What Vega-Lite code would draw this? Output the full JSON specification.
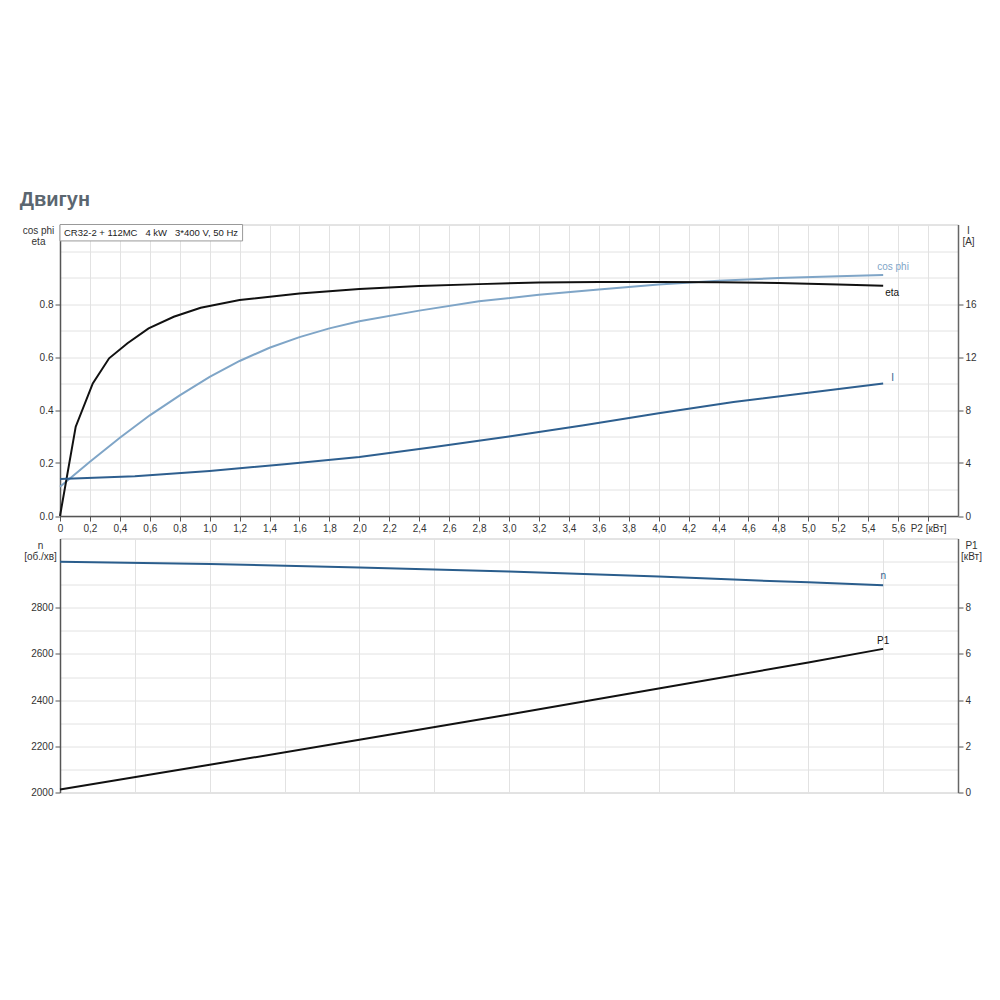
{
  "$schema": "https://vega.github.io/schema/vega-lite/v6.json",
  "background": "white",
  "padding": {"left": 19, "top": 189.5, "right": 5, "bottom": 5},
  "title": {"text": "Двигун", "anchor": "start", "fontSize": 20, "font": "Liberation Sans", "fontWeight": "bold", "color": "#5b6670", "offset": 14, "dx": -2},
  "config": {
    "view": {"stroke": "#c8c8c8"},
    "axis": {"labelFont": "Liberation Sans", "labelFontSize": 10, "labelColor": "#333", "titleFont": "Liberation Sans", "titleFontSize": 10, "titleFontWeight": "normal", "titleColor": "#333", "titleLineHeight": 11, "gridColor": "#e2e2e2", "gridWidth": 1, "domainColor": "#555", "domainWidth": 1.5, "tickColor": "#555", "tickSize": 5, "labelPadding": 2},
    "text": {"font": "Liberation Sans", "fontSize": 10}
  },
  "datasets": {
    "eta": [
      {"P2": 0, "v": 0}, {"P2": 0.105, "v": 0.337}, {"P2": 0.219, "v": 0.5}, {"P2": 0.328, "v": 0.595},
      {"P2": 0.451, "v": 0.652}, {"P2": 0.592, "v": 0.708}, {"P2": 0.76, "v": 0.752}, {"P2": 0.94, "v": 0.786},
      {"P2": 1.2, "v": 0.815}, {"P2": 1.6, "v": 0.84}, {"P2": 2.0, "v": 0.857}, {"P2": 2.4, "v": 0.868},
      {"P2": 2.8, "v": 0.875}, {"P2": 3.2, "v": 0.881}, {"P2": 3.6, "v": 0.883}, {"P2": 4.0, "v": 0.883},
      {"P2": 4.4, "v": 0.882}, {"P2": 4.8, "v": 0.879}, {"P2": 5.2, "v": 0.874}, {"P2": 5.5, "v": 0.869}
    ],
    "cosphi": [
      {"P2": 0, "v": 0.11}, {"P2": 0.2, "v": 0.205}, {"P2": 0.4, "v": 0.295}, {"P2": 0.6, "v": 0.38},
      {"P2": 0.8, "v": 0.455}, {"P2": 1.0, "v": 0.525}, {"P2": 1.2, "v": 0.585}, {"P2": 1.4, "v": 0.635},
      {"P2": 1.6, "v": 0.675}, {"P2": 1.8, "v": 0.708}, {"P2": 2.0, "v": 0.735}, {"P2": 2.4, "v": 0.775},
      {"P2": 2.8, "v": 0.81}, {"P2": 3.2, "v": 0.835}, {"P2": 3.6, "v": 0.855}, {"P2": 4.0, "v": 0.874},
      {"P2": 4.4, "v": 0.888}, {"P2": 4.8, "v": 0.898}, {"P2": 5.2, "v": 0.905}, {"P2": 5.5, "v": 0.909}
    ],
    "current": [
      {"P2": 0, "v": 2.8}, {"P2": 0.5, "v": 3.0}, {"P2": 1.0, "v": 3.4}, {"P2": 1.5, "v": 3.9},
      {"P2": 2.0, "v": 4.45}, {"P2": 2.5, "v": 5.2}, {"P2": 3.0, "v": 6.0}, {"P2": 3.5, "v": 6.85},
      {"P2": 4.0, "v": 7.75}, {"P2": 4.5, "v": 8.6}, {"P2": 5.0, "v": 9.3}, {"P2": 5.5, "v": 10.0}
    ],
    "speed": [
      {"P2": 0, "v": 2999}, {"P2": 1, "v": 2990}, {"P2": 2, "v": 2974}, {"P2": 3, "v": 2957},
      {"P2": 4, "v": 2935}, {"P2": 4.5, "v": 2922}, {"P2": 5, "v": 2910}, {"P2": 5.5, "v": 2898}
    ],
    "p1": [
      {"P2": 0, "v": 0.13}, {"P2": 1, "v": 1.2}, {"P2": 2, "v": 2.28}, {"P2": 3, "v": 3.38},
      {"P2": 4, "v": 4.5}, {"P2": 5, "v": 5.63}, {"P2": 5.5, "v": 6.22}
    ]
  },
  "spacing": 22,
  "bounds": "flush",
  "vconcat": [
    {
      "width": 898,
      "height": 291.5,
      "layer": [
        {
          "encoding": {
            "x": {"field": "P2", "type": "quantitative", "scale": {"domain": [0, 6], "nice": false, "zero": false},
              "axis": {"values": [0, 0.2, 0.4, 0.6, 0.8, 1.0, 1.2, 1.4, 1.6, 1.8, 2.0, 2.2, 2.4, 2.6, 2.8, 3.0, 3.2, 3.4, 3.6, 3.8, 4.0, 4.2, 4.4, 4.6, 4.8, 5.0, 5.2, 5.4, 5.6, 5.8],
                "labelExpr": "datum.value > 5.7 ? 'P2 [кВт]' : (datum.value == 0 ? '0' : replace(format(datum.value, '.1f'), '.', ','))",
                "grid": true, "title": null, "labelFlush": false, "labelOverlap": false}},
            "y": {"field": "v", "type": "quantitative", "scale": {"domain": [0, 1.1], "nice": false, "zero": false},
              "axis": {"orient": "left", "values": [0, 0.1, 0.2, 0.3, 0.4, 0.5, 0.6, 0.7, 0.8, 0.9, 1.0], "grid": true,
                "labelExpr": "(round(datum.value*10) % 2 == 0 && datum.value < 0.85) ? format(datum.value, '.1f') : ''",
                "tickOpacity": {"condition": {"test": "round(datum.value*10) % 2 == 0 && datum.value < 0.85", "value": 1}, "value": 0},
                "title": ["cos phi", "eta"], "titleAngle": 0, "titleAlign": "center", "titleBaseline": "top", "titleX": -22, "titleY": 1}}
          },
          "layer": [
            {"data": {"name": "cosphi"}, "mark": {"type": "line", "color": "#7fa5c7", "strokeWidth": 2}},
            {"data": {"name": "eta"}, "mark": {"type": "line", "color": "#111111", "strokeWidth": 2}},
            {"data": {"name": "cosphi"}, "transform": [{"filter": "datum.P2 == 5.5"}],
              "mark": {"type": "text", "text": "cos phi", "color": "#7fa5c7", "align": "left", "baseline": "bottom", "dx": -6, "dy": -3}},
            {"data": {"name": "eta"}, "transform": [{"filter": "datum.P2 == 5.5"}],
              "mark": {"type": "text", "text": "eta", "color": "#111111", "align": "left", "baseline": "middle", "dx": 2, "dy": 7}}
          ]
        },
        {
          "encoding": {
            "x": {"field": "P2", "type": "quantitative", "scale": {"domain": [0, 6], "nice": false, "zero": false},
              "axis": {"values": [0, 0.2, 0.4, 0.6, 0.8, 1.0, 1.2, 1.4, 1.6, 1.8, 2.0, 2.2, 2.4, 2.6, 2.8, 3.0, 3.2, 3.4, 3.6, 3.8, 4.0, 4.2, 4.4, 4.6, 4.8, 5.0, 5.2, 5.4, 5.6, 5.8],
                "labelExpr": "datum.value > 5.7 ? 'P2 [кВт]' : (datum.value == 0 ? '0' : replace(format(datum.value, '.1f'), '.', ','))",
                "grid": true, "title": null, "labelFlush": false, "labelOverlap": false}},
            "y": {"field": "v", "type": "quantitative", "scale": {"domain": [0, 22], "nice": false, "zero": false},
              "axis": {"orient": "right", "values": [0, 4, 8, 12, 16], "grid": false, "domainColor": "#666",
                "title": ["I", "[A]"], "titleAngle": 0, "titleAlign": "center", "titleBaseline": "top", "titleX": 10, "titleY": 1}}
          },
          "layer": [
            {"data": {"name": "current"}, "mark": {"type": "line", "color": "#2e5f8f", "strokeWidth": 2}},
            {"data": {"name": "current"}, "transform": [{"filter": "datum.P2 == 5.5"}],
              "mark": {"type": "text", "text": "I", "color": "#2e5f8f", "align": "left", "baseline": "middle", "dx": 8, "dy": -6}}
          ]
        },
        {
          "layer": [
            {"data": {"values": [{}]}, "mark": {"type": "rect", "fill": "white", "stroke": "#999999", "strokeWidth": 1},
              "encoding": {
                "x": {"datum": 0, "type": "quantitative", "scale": {"domain": [0, 6], "nice": false, "zero": false},
                  "axis": {"values": [0, 0.2, 0.4, 0.6, 0.8, 1.0, 1.2, 1.4, 1.6, 1.8, 2.0, 2.2, 2.4, 2.6, 2.8, 3.0, 3.2, 3.4, 3.6, 3.8, 4.0, 4.2, 4.4, 4.6, 4.8, 5.0, 5.2, 5.4, 5.6, 5.8],
                    "labelExpr": "datum.value > 5.7 ? 'P2 [кВт]' : (datum.value == 0 ? '0' : replace(format(datum.value, '.1f'), '.', ','))",
                    "grid": true, "title": null, "labelFlush": false, "labelOverlap": false}},
                "x2": {"datum": 1.22},
                "y": {"datum": 1.038, "type": "quantitative", "scale": {"domain": [0, 1.1], "nice": false, "zero": false}, "axis": null},
                "y2": {"datum": 1.1}
              }},
            {"data": {"values": [{}]}, "mark": {"type": "text", "text": "CR32-2 + 112MC\u00a0\u00a0\u00a04 kW\u00a0\u00a0\u00a03*400 V, 50 Hz", "align": "left", "baseline": "middle", "dx": 4, "fontSize": 9.5, "color": "#222"},
              "encoding": {
                "x": {"datum": 0, "type": "quantitative", "scale": {"domain": [0, 6], "nice": false, "zero": false},
                  "axis": {"values": [0, 0.2, 0.4, 0.6, 0.8, 1.0, 1.2, 1.4, 1.6, 1.8, 2.0, 2.2, 2.4, 2.6, 2.8, 3.0, 3.2, 3.4, 3.6, 3.8, 4.0, 4.2, 4.4, 4.6, 4.8, 5.0, 5.2, 5.4, 5.6, 5.8],
                    "labelExpr": "datum.value > 5.7 ? 'P2 [кВт]' : (datum.value == 0 ? '0' : replace(format(datum.value, '.1f'), '.', ','))",
                    "grid": true, "title": null, "labelFlush": false, "labelOverlap": false}},
                "y": {"datum": 1.069, "type": "quantitative", "scale": {"domain": [0, 1.1], "nice": false, "zero": false}, "axis": null}
              }}
          ]
        }
      ],
      "resolve": {"scale": {"y": "independent"}, "axis": {"y": "independent"}}
    },
    {
      "width": 898,
      "height": 254,
      "encoding": {
        "x": {"field": "P2", "type": "quantitative", "scale": {"domain": [0, 6], "nice": false, "zero": false},
          "axis": {"values": [0.5, 1.0, 1.5, 2.0, 2.5, 3.0, 3.5, 4.0, 4.5, 5.0, 5.5], "grid": true, "labels": false, "ticks": false, "domain": false, "title": null}}
      },
      "layer": [
        {
          "encoding": {
            "y": {"field": "v", "type": "quantitative", "scale": {"domain": [2000, 3100], "nice": false, "zero": false},
              "axis": {"orient": "left", "values": [2000, 2100, 2200, 2300, 2400, 2500, 2600, 2700, 2800, 2900, 3000], "grid": true,
                "labelExpr": "(datum.value % 200 == 0 && datum.value < 2900) ? format(datum.value, 'd') : ''",
                "tickOpacity": {"condition": {"test": "datum.value % 200 == 0 && datum.value < 2900", "value": 1}, "value": 0},
                "title": ["n", "[об./хв]"], "titleAngle": 0, "titleAlign": "center", "titleBaseline": "top", "titleX": -20, "titleY": 2}}
          },
          "layer": [
            {"data": {"name": "speed"}, "mark": {"type": "line", "color": "#2a5d8c", "strokeWidth": 2}},
            {"data": {"name": "speed"}, "transform": [{"filter": "datum.P2 == 5.5"}],
              "mark": {"type": "text", "text": "n", "color": "#2a5d8c", "align": "center", "baseline": "bottom", "dx": 0, "dy": -4}}
          ]
        },
        {
          "encoding": {
            "y": {"field": "v", "type": "quantitative", "scale": {"domain": [0, 11], "nice": false, "zero": false},
              "axis": {"orient": "right", "values": [0, 2, 4, 6, 8], "grid": false, "domainColor": "#666",
                "title": ["P1", "[кВт]"], "titleAngle": 0, "titleAlign": "center", "titleBaseline": "top", "titleX": 13, "titleY": 2}}
          },
          "layer": [
            {"data": {"name": "p1"}, "mark": {"type": "line", "color": "#111111", "strokeWidth": 2}},
            {"data": {"name": "p1"}, "transform": [{"filter": "datum.P2 == 5.5"}],
              "mark": {"type": "text", "text": "P1", "color": "#111111", "align": "center", "baseline": "bottom", "dx": 0, "dy": -3}}
          ]
        }
      ],
      "resolve": {"scale": {"y": "independent"}, "axis": {"y": "independent"}}
    }
  ]
}
